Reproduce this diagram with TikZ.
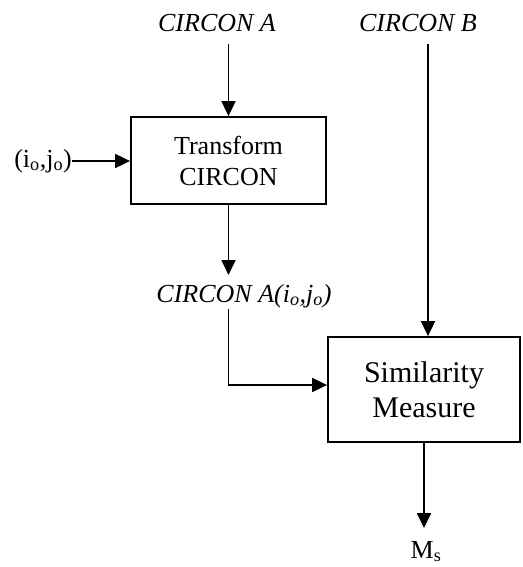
\documentclass[tikz,border=0pt]{standalone}
\usepackage{fontspec}
\setmainfont{Liberation Serif}
\usetikzlibrary{arrows.meta, calc}

\begin{document}
\begin{tikzpicture}[x=1pt, y=-1pt,
    flow/.style={-{Triangle[length=15pt, width=14pt]}, line width=1.8pt},
    block/.style={draw, line width=1.8pt, align=center, inner sep=0pt},
    lbl/.style={inner sep=0pt, text height=18pt, text depth=6pt, font=\fontsize{26}{31}\selectfont\itshape}]

    \useasboundingbox (0,0) rectangle (522,567);

    % --- 1. BLOCKS ---
    \node[block, minimum width=195pt, minimum height=87pt,
          font=\fontsize{26}{31}\selectfont] (trans) at (228.5,160.5) {Transform\\CIRCON};
    \node[block, minimum width=192pt, minimum height=105pt,
          font=\fontsize{30}{35}\selectfont] (sim) at (424,389.5) {Similarity\\Measure};

    % --- 2. SIGNALS ---
    \node[lbl, outer sep=6pt] (circA) at (217,26) {CIRCON A};
    \node[lbl, outer sep=6pt] (circB) at (418,26) {CIRCON B};
    \node[lbl, outer sep=1pt] (circAij) at (244,296) {CIRCON A(i\textsubscript{o},j\textsubscript{o})};
    \node[lbl, font=\fontsize{26}{31}\selectfont, anchor=east] (ij) at (72,161) {(i\textsubscript{o},j\textsubscript{o})};
    \node[lbl, font=\fontsize{26}{31}\selectfont, outer sep=4pt] (ms) at (426,552) {M\textsubscript{s}};

    % --- 3. CONNECTORS ---
    \draw[flow] (circA.south -| trans.north) -- (trans.north);
    \draw[flow] (ij.east) -- (ij.east -| trans.west);
    \draw[flow, shorten >=8pt] (trans.south) -- (circAij.north -| trans.south);
    \draw[flow] (circAij.south -| trans.south) |- ([yshift=4.5pt]sim.west);
    \draw[flow] ([xshift=4pt]circB.south -| sim.north) -- ([xshift=4pt]sim.north);
    \draw[flow, shorten >=8pt] (sim.south) -- (sim.south |- ms.north);

\end{tikzpicture}
\end{document}
